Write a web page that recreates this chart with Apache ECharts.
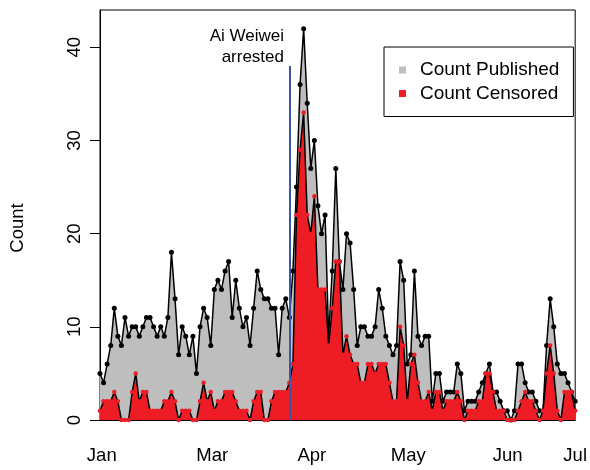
<!DOCTYPE html>
<html>
<head>
<meta charset="utf-8">
<script src="https://cdn.jsdelivr.net/npm/echarts@6/dist/echarts.min.js"></script>
<style>
html,body{margin:0;padding:0;background:#fff;}
#chart{width:590px;height:470px;}
</style>
</head>
<body>
<div id="chart"></div>
<script>
// Daily counts (index = observation number along the x axis)
const published = [
 5,4,6,8,12,9,8,11,9,10,
 10,9,10,11,11,10,9,10,9,11,
 18,13,7,10,9,7,9,5,10,12,
 11,8,14,15,14,16,17,11,15,12,
 10,11,8,12,16,14,13,13,12,12,
 7,12,13,11,16,25,36,42,34,27,
 30,23,20,22,9,16,27,17,14,20,
 19,14,8,10,10,9,9,10,14,12,
 9,8,7,8,17,15,6,7,16,9,
 8,9,9,2,5,5,2,3,3,3,
 6,5,1,2,2,2,3,4,5,6,
 3,3,2,1,1,0,1,6,6,4,
 3,3,2,1,1,8,13,10,6,5,
 5,4,3,2
];
const censored = [
 1,2,2,2,3,2,0,0,0,3,
 5,2,3,3,1,1,1,1,2,2,
 3,2,0,1,1,1,0,0,2,4,
 2,3,1,2,2,3,3,3,2,1,
 1,1,0,2,3,3,0,0,2,3,
 3,3,3,4,6,22,29,33,22,20,
 24,14,14,14,8,12,17,17,7,9,
 7,6,6,4,4,6,6,5,6,6,
 6,4,2,2,10,8,2,6,7,4,
 2,2,3,1,3,3,1,2,2,2,
 3,2,0,1,1,1,2,2,5,5,
 3,1,1,1,0,0,0,1,2,3,
 2,2,1,0,1,5,8,5,1,0,
 3,3,3,1
];
// x-axis month labels and their positions (in observation index units)
const monthLabels = ['Jan','Mar','Apr','May','Jun','Jul'];
const monthPos = [0.5, 31.4, 59.3, 86.3, 114.1, 133];
const yTicks = [0,10,20,30,40];
// event marker
const eventIndex = 53;
const eventTop = 38;
const eventLabel = 'Ai Weiwei\narrested';

const font = 'Liberation Sans, Arial, Helvetica, sans-serif';
const pubData = published.map((v,i)=>[i,v]);
const cenData = censored.map((v,i)=>[i,v]);

const chart = echarts.init(document.getElementById('chart'), null, {renderer:'canvas'});
chart.setOption({
  animation:false,
  backgroundColor:'#fff',
  textStyle:{fontFamily:font},
  grid:{left:100,right:12,top:10,bottom:50,show:true,borderColor:'#000',borderWidth:1,backgroundColor:'transparent'},
  legend:{
    orient:'vertical',left:384,top:47,
    icon:'rect',itemWidth:7,itemHeight:7,itemGap:3.5,
    borderColor:'#000',borderWidth:1,borderRadius:0,
    padding:[13,14,13,15],
    textStyle:{fontSize:19,color:'#000',fontFamily:font,lineHeight:20,padding:[0,0,0,9]},
    itemStyle:{borderWidth:0},
    data:[
      {name:'Count Published',itemStyle:{color:'#bebebe',borderWidth:0}},
      {name:'Count Censored',itemStyle:{color:'#ee1c25',borderWidth:0}}
    ]
  },
  xAxis:{
    type:'value',min:0,max:published.length-1,
    splitLine:{show:false},
    axisLine:{show:true,lineStyle:{color:'#000',width:1}},
    axisTick:{show:false},
    axisLabel:{
      customValues:monthPos,
      fontSize:18.5,color:'#000',fontFamily:font,margin:26,
      formatter:function(v){
        let best=0,bd=1e9;
        monthPos.forEach((p,i)=>{const d=Math.abs(p-v);if(d<bd){bd=d;best=i;}});
        return monthLabels[best];
      }
    }
  },
  yAxis:{
    type:'value',min:0,max:44,
    splitLine:{show:false},
    axisLine:{show:true,lineStyle:{color:'#000',width:1}},
    axisTick:{show:true,length:10,lineStyle:{color:'#000'},customValues:yTicks},
    axisLabel:{customValues:yTicks,rotate:90,fontSize:18.5,color:'#000',fontFamily:font,margin:16}
  },
  graphic:[
    {
      type:'text',x:284,y:47,
      style:{text:eventLabel,font:'17px '+font,fill:'#000',textAlign:'right',textVerticalAlign:'middle',lineHeight:21}
    },
    {
      type:'text',x:18,y:228,rotation:Math.PI/2,
      style:{text:'Count',font:'18.5px '+font,fill:'#000',textAlign:'center',textVerticalAlign:'middle'}
    }
  ],
  series:[
    {
      name:'Count Published',type:'line',data:pubData,
      symbol:'circle',symbolSize:5,showAllSymbol:true,
      itemStyle:{color:'#000'},
      lineStyle:{color:'#000',width:1.5},
      areaStyle:{color:'#bebebe',opacity:1},
      z:2
    },
    {
      name:'Count Censored',type:'line',data:cenData,
      symbol:'circle',symbolSize:4.5,showAllSymbol:true,
      itemStyle:{color:'#ee1c25'},
      lineStyle:{color:'#000',width:1.5},
      areaStyle:{color:'#ee1c25',opacity:1},
      z:3,
      markLine:{
        silent:true,symbol:['none','none'],
        lineStyle:{color:'#3b55a5',width:2,type:'solid'},
        label:{show:false},
        data:[[{coord:[eventIndex,0]},{coord:[eventIndex,eventTop]}]]
      }
    }
  ]
});
</script>
</body>
</html>
